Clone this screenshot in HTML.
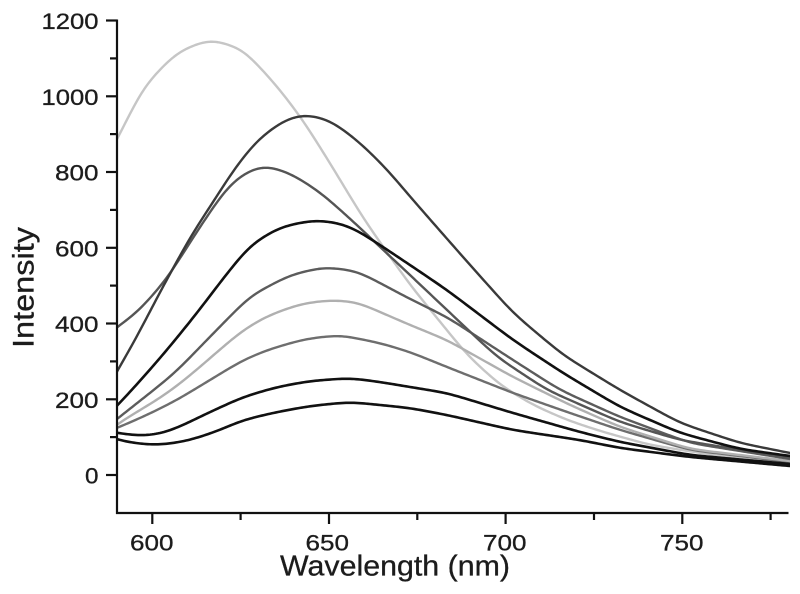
<!DOCTYPE html>
<html>
<head>
<meta charset="utf-8">
<style>
  html,body{margin:0;padding:0;background:#fff;}
  svg{display:block;}
  text{font-family:"Liberation Sans",Arial,sans-serif;fill:#1c1c1c;stroke:#1c1c1c;stroke-width:0.3;}
</style>
</head>
<body>
<svg id="chart" width="800" height="594" viewBox="0 0 800 594" xmlns="http://www.w3.org/2000/svg">
  <defs>
    <clipPath id="plot"><rect x="118" y="0" width="672" height="512"/></clipPath>
  </defs>
  <rect width="800" height="594" fill="#fff"/>

  <g id="curves" clip-path="url(#plot)" fill="none" stroke-linejoin="round" stroke-linecap="round"></g>

  <!-- axes -->
  <g stroke="#111" stroke-width="2.2" fill="none">
    <line x1="117" y1="19.5" x2="117" y2="514"/>
    <line x1="116" y1="513" x2="788.5" y2="513"/>
    <line x1="106" y1="20.5" x2="117" y2="20.5"/>
    <line x1="106" y1="96.3" x2="117" y2="96.3"/>
    <line x1="106" y1="172" x2="117" y2="172"/>
    <line x1="106" y1="247.8" x2="117" y2="247.8"/>
    <line x1="106" y1="323.5" x2="117" y2="323.5"/>
    <line x1="106" y1="399.3" x2="117" y2="399.3"/>
    <line x1="106" y1="475" x2="117" y2="475"/>
    <line x1="110" y1="58.4" x2="117" y2="58.4"/>
    <line x1="110" y1="134.1" x2="117" y2="134.1"/>
    <line x1="110" y1="209.9" x2="117" y2="209.9"/>
    <line x1="110" y1="285.6" x2="117" y2="285.6"/>
    <line x1="110" y1="361.4" x2="117" y2="361.4"/>
    <line x1="110" y1="437.1" x2="117" y2="437.1"/>
    <line x1="152.3" y1="513" x2="152.3" y2="524"/>
    <line x1="329" y1="513" x2="329" y2="524"/>
    <line x1="505.6" y1="513" x2="505.6" y2="524"/>
    <line x1="682.3" y1="513" x2="682.3" y2="524"/>
    <line x1="240.6" y1="513" x2="240.6" y2="520"/>
    <line x1="417.3" y1="513" x2="417.3" y2="520"/>
    <line x1="594" y1="513" x2="594" y2="520"/>
    <line x1="770.6" y1="513" x2="770.6" y2="520"/>
  </g>

  <g font-size="22">
    <text x="41.5" y="29" textLength="57" lengthAdjust="spacingAndGlyphs">1200</text>
    <text x="41.5" y="104.8" textLength="57" lengthAdjust="spacingAndGlyphs">1000</text>
    <text x="55" y="180.5" textLength="43.5" lengthAdjust="spacingAndGlyphs">800</text>
    <text x="55" y="256.3" textLength="43.5" lengthAdjust="spacingAndGlyphs">600</text>
    <text x="55" y="332" textLength="43.5" lengthAdjust="spacingAndGlyphs">400</text>
    <text x="55" y="407.8" textLength="43.5" lengthAdjust="spacingAndGlyphs">200</text>
    <text x="85" y="483.5" textLength="13.5" lengthAdjust="spacingAndGlyphs">0</text>
  </g>
  <g font-size="22">
    <text x="130" y="550.5" textLength="43.5" lengthAdjust="spacingAndGlyphs">600</text>
    <text x="305.5" y="550.5" textLength="43.5" lengthAdjust="spacingAndGlyphs">650</text>
    <text x="483" y="550.5" textLength="43.5" lengthAdjust="spacingAndGlyphs">700</text>
    <text x="660" y="550.5" textLength="43.5" lengthAdjust="spacingAndGlyphs">750</text>
  </g>

  <text x="280" y="575.5" font-size="28.5" textLength="230" lengthAdjust="spacingAndGlyphs">Wavelength (nm)</text>
  <text transform="translate(33.3,348) rotate(-90)" x="0" y="0" font-size="29.5" textLength="121" lengthAdjust="spacingAndGlyphs">Intensity</text>
</svg>

<script>
(function(){
  var series = [
    {c:"#c6c6c6", w:2.4, p:[[112,149],[117,140],[143,87],[177,52],[210,39],[243,49],[277,86],[303,120],[333,168],[363,218],[410,285],[433,313],[467,355],[500,385],[533,405],[567,420],[600,431],[650,445],[720,456],[790,464]]},
    {c:"#6e6e6e", w:2.4, p:[[112,430],[117,428],[147,415],[177,400],[210,380],[243,360],[270,349],[305,339],[340,335],[380,343],[410,352],[447,367],[513,393],[570,413],[620,430],[690,450],[790,462]]},
    {c:"#b0b0b0", w:2.4, p:[[112,428],[117,424],[160,398],[177,386],[200,367],[217,352],[243,330],[267,316],[300,304],[330,300],[357,302],[380,312],[410,325],[447,340],[513,377],[570,405],[620,427],[690,449],[790,461]]},
    {c:"#5c5c5c", w:2.4, p:[[112,423],[117,419],[160,385],[177,371],[200,347],[250,296],[290,275],[324,267],[357,271],[380,283],[410,299],[447,317],[513,360],[560,390],[620,417],[690,443],[790,459]]},
    {c:"#555555", w:2.4, p:[[112,331],[117,327],[137,313],[167,279],[194,236],[210,212],[227,187],[244,173],[264,165],[290,173],[317,190],[327,198],[357,225],[380,247],[410,275],[447,310],[497,357],[547,390],[620,422],[680,440],[790,458]]},
    {c:"#3a3a3a", w:2.4, p:[[112,380],[117,370],[130,350],[160,292],[193,232],[210,207],[234,169],[257,140],[284,120],[304,114],[330,120],[357,140],[385,167],[413,200],[463,257],[513,313],[563,355],[620,390],[680,423],[740,443],[790,453]]},
    {c:"#111111", w:2.6, p:[[112,411],[117,406],[140,381],[167,350],[197,313],[225,276],[250,245],[280,227],[314,220],[340,223],[357,230],[380,245],[410,265],[447,290],[513,340],[563,373],[620,407],[680,433],[740,449],[790,456]]},
    {c:"#111111", w:2.6, p:[[112,432],[117,433],[140,436],[160,434],[177,428],[210,412],[243,397],[277,387],[310,381],[350,378],[380,382],[410,387],[447,393],[513,413],[580,432],[620,442],[690,455],[790,464]]},
    {c:"#111111", w:2.6, p:[[112,438],[117,440],[140,444],[160,445],[187,441],[215,432],[243,420],[277,412],[310,406],[350,402],[380,405],[410,408],[447,415],[513,430],[580,440],[620,448],[690,457],[790,466]]}
  ];
  function interp(pts,x){
    var n=pts.length;
    if(x<=pts[0][0]){var a=pts[0],b=pts[1];return a[1]+(b[1]-a[1])*(x-a[0])/(b[0]-a[0]);}
    if(x>=pts[n-1][0]){var a2=pts[n-2],b2=pts[n-1];return b2[1]+(b2[1]-a2[1])*(x-b2[0])/(b2[0]-a2[0]);}
    for(var i=0;i<n-1;i++){
      if(x>=pts[i][0]&&x<=pts[i+1][0]){
        var t=(x-pts[i][0])/(pts[i+1][0]-pts[i][0]);
        return pts[i][1]+t*(pts[i+1][1]-pts[i][1]);
      }
    }
    return pts[n-1][1];
  }
  function smooth(pts,sigma){
    var x0=100,x1=800,pad=Math.ceil(sigma*3);
    var xs=[],ys=[];
    for(var x=x0-pad;x<=x1+pad;x++){xs.push(x);ys.push(interp(pts,x));}
    var k=[],ks=0;
    for(var j=-pad;j<=pad;j++){var v=Math.exp(-j*j/(2*sigma*sigma));k.push(v);ks+=v;}
    var out=[];
    for(var i=pad;i<xs.length-pad;i+=2){
      var s=0;
      for(var j2=-pad;j2<=pad;j2++){s+=ys[i+j2]*k[j2+pad];}
      out.push([xs[i],s/ks]);
    }
    return out;
  }
  var g=document.getElementById("curves"), ns="http://www.w3.org/2000/svg";
  series.forEach(function(s){
    var pts=smooth(s.p,10);
    var d="M"+pts.map(function(q){return q[0]+","+(Math.round(q[1]*100)/100);}).join(" L");
    var p=document.createElementNS(ns,"path");
    p.setAttribute("d",d);
    p.setAttribute("stroke",s.c);
    p.setAttribute("stroke-width",s.w);
    g.appendChild(p);
  });
})();
</script>
</body>
</html>
